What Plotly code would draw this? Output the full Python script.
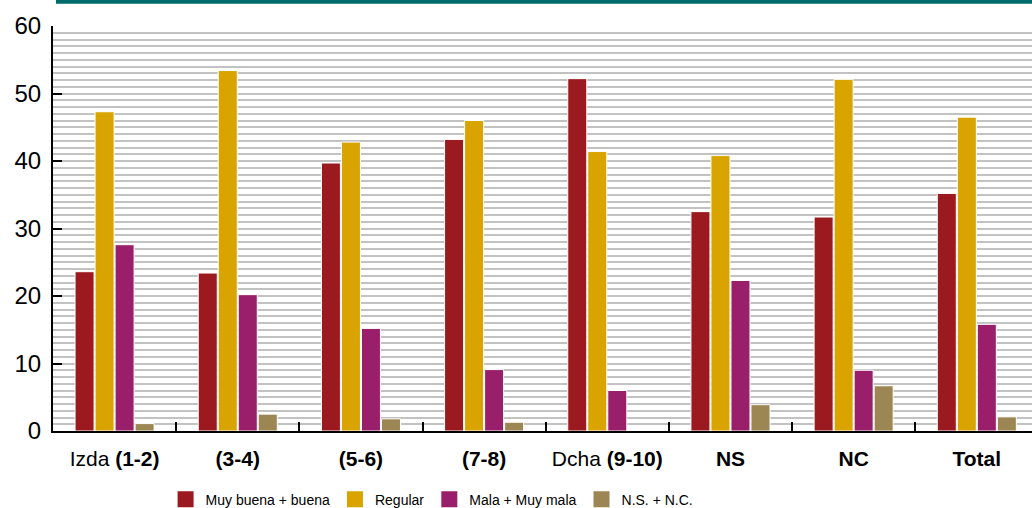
import plotly.graph_objects as go

categories = ["Izda <b>(1-2)</b>", "<b>(3-4)</b>", "<b>(5-6)</b>", "<b>(7-8)</b>",
              "Dcha <b>(9-10)</b>", "<b>NS</b>", "<b>NC</b>", "<b>Total</b>"]
series_names = ["Muy buena + buena", "Regular", "Mala + Muy mala", "N.S. + N.C."]
muy_buena = [23.6, 23.4, 39.7, 43.2, 52.2, 32.5, 31.7, 35.2]
regular = [47.3, 53.4, 42.8, 46.0, 41.4, 40.8, 52.1, 46.5]
mala = [27.6, 20.2, 15.2, 9.1, 6.0, 22.3, 9.0, 15.8]
nsnc = [1.1, 2.5, 1.8, 1.3, 0.0, 3.9, 6.7, 2.1]
colors = ["#9B1A1F", "#D9A300", "#9A1F6B", "#9C8654"]

fig = go.Figure()
for name, vals, col in zip(series_names, [muy_buena, regular, mala, nsnc], colors):
    fig.add_trace(go.Bar(x=categories, y=vals, name=name, showlegend=False,
                         marker=dict(color=col, line=dict(color="white", width=1))))
# legend entries with larger square swatches
for name, col in zip(series_names, colors):
    fig.add_trace(go.Scatter(x=[None], y=[None], mode="markers", name=name,
                             marker=dict(symbol="square", size=20, color=col),
                             showlegend=True))

fig.update_layout(
    width=1032, height=508,
    margin=dict(l=53, r=0, t=26, b=77),
    paper_bgcolor="white", plot_bgcolor="white",
    barmode="group", bargap=0.35, bargroupgap=0.05,
    font=dict(family="Liberation Sans, Arial, sans-serif", color="black"),
    legend=dict(orientation="h", x=0.115, xanchor="left",
                yref="container", y=0.048, yanchor="top",
                font=dict(size=14), traceorder="normal", itemsizing="trace"),
    showlegend=True,
)
fig.update_xaxes(
    type="category", range=[-0.5, 7.448],
    showline=True, linecolor="black", linewidth=2,
    ticks="inside", ticklen=9, tickwidth=2, tickcolor="black",
    tickson="boundaries", showgrid=False, layer="below traces",
    tickfont=dict(size=21), ticklabelstandoff=8,
)
fig.update_yaxes(
    range=[0, 60], dtick=10, tick0=0,
    showline=True, linecolor="black", linewidth=2,
    ticks="inside", ticklen=9, tickwidth=2, tickcolor="black",
    showgrid=True, gridcolor="#c2c2c2", gridwidth=2,
    minor=dict(dtick=1, showgrid=True, gridcolor="#c2c2c2", gridwidth=2),
    zeroline=False, tickfont=dict(size=24), ticklabelstandoff=5,
    layer="below traces",
)
fig.add_shape(type="line", xref="paper", yref="paper", x0=0.003, x1=1,
              y0=1.06, y1=1.06, line=dict(color="#006B6B", width=4))

fig.write_html("out.html", config={"displayModeBar": False})

# remove default browser body margin so the figure sits at the window origin
with open("out.html", "r", encoding="utf-8") as f:
    html = f.read()
html = html.replace("<body>", '<body style="margin:0;padding:0;overflow:hidden">', 1)
with open("out.html", "w", encoding="utf-8") as f:
    f.write(html)
